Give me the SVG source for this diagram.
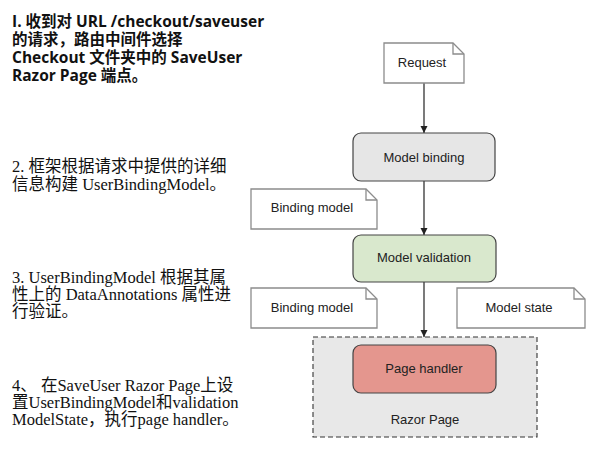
<svg xmlns="http://www.w3.org/2000/svg" width="602" height="451" viewBox="0 0 602 451">
<style>
.doc{fill:#fff;stroke:#8c8c8c;stroke-width:1.3}
.fold{fill:none;stroke:#8c8c8c;stroke-width:1.3}
.box{stroke:#444;stroke-width:1.2}
.lbl{font-family:"Liberation Sans",Arial,sans-serif;font-size:13px;fill:#222;text-anchor:middle}
.conn{stroke:#222;stroke-width:1.2;fill:none}
.t1{font-family:"Open Sans","Noto Sans CJK SC",sans-serif;font-weight:bold;font-size:15.5px;fill:#111}
.ts{font-family:"Liberation Serif","Noto Sans CJK SC",serif;font-size:16.5px;fill:#111}
</style>
<defs>
<marker id="ah" viewBox="0 0 10 10" refX="10" refY="5" markerWidth="7" markerHeight="9" markerUnits="userSpaceOnUse" orient="auto">
<path d="M0,0 L10,5 L0,10 Z" fill="#222"/>
</marker>
</defs>
<rect width="602" height="451" fill="#fff"/>

<g id="note1">
<text class="t1" x="12" y="27">I. 收到对 URL /checkout/saveuser</text>
<text class="t1" x="12" y="45">的请求，路由中间件选择</text>
<text class="t1" x="12" y="63">Checkout 文件夹中的 SaveUser</text>
<text class="t1" x="12" y="81">Razor Page 端点。</text>
</g>
<g id="note2">
<text class="ts" x="12" y="172">2. 框架根据请求中提供的详细</text>
<text class="ts" x="12" y="190">信息构建 UserBindingModel。</text>
</g>
<g id="note3">
<text class="ts" x="12" y="283">3. UserBindingModel 根据其属</text>
<text class="ts" x="12" y="300">性上的 DataAnnotations 属性进</text>
<text class="ts" x="12" y="317">行验证。</text>
</g>
<g id="note4">
<text class="ts" x="12" y="391">4、 在SaveUser Razor Page上设</text>
<text class="ts" x="12" y="408">置UserBindingModel和validation</text>
<text class="ts" x="12" y="425">ModelState，执行page handler。</text>
</g>

<g id="razor-page">
<rect x="313" y="337" width="224" height="100" fill="#e8e8e8" stroke="#333" stroke-width="1.1" stroke-dasharray="5,3"/>
<text class="lbl" x="425" y="424">Razor Page</text>
</g>

<g id="connectors">
<line class="conn" x1="424" y1="83" x2="424" y2="133" marker-end="url(#ah)"/>
<line class="conn" x1="424" y1="181" x2="424" y2="235" marker-end="url(#ah)"/>
<line class="conn" x1="424" y1="282" x2="424" y2="337" marker-end="url(#ah)"/>
</g>

<g id="request">
<path class="doc" d="M384,43 H453 L464,54 V83 H384 Z"/>
<path class="fold" d="M453,43 V54 H464"/>
<text class="lbl" x="422" y="67">Request</text>
</g>

<g id="model-binding">
<rect class="box" x="353" y="133" width="142" height="48" rx="8" fill="#e6e6e6"/>
<text class="lbl" x="424" y="162">Model binding</text>
</g>

<g id="binding-model-1">
<path class="doc" d="M251,189 H366 L377,200 V229 H251 Z"/>
<path class="fold" d="M366,189 V200 H377"/>
<text class="lbl" x="312" y="212">Binding model</text>
</g>

<g id="model-validation">
<rect class="box" x="353" y="235" width="143" height="47" rx="8" fill="#d9e8cd"/>
<text class="lbl" x="424" y="262">Model validation</text>
</g>

<g id="binding-model-2">
<path class="doc" d="M251,288 H366 L377,299 V328 H251 Z"/>
<path class="fold" d="M366,288 V299 H377"/>
<text class="lbl" x="312" y="312">Binding model</text>
</g>

<g id="model-state">
<path class="doc" d="M457,288 H574 L585,299 V328 H457 Z"/>
<path class="fold" d="M574,288 V299 H585"/>
<text class="lbl" x="519" y="312">Model state</text>
</g>

<g id="page-handler">
<rect class="box" x="353" y="345" width="143" height="48" rx="8" fill="#e4968e"/>
<text class="lbl" x="424" y="373">Page handler</text>
</g>
</svg>
